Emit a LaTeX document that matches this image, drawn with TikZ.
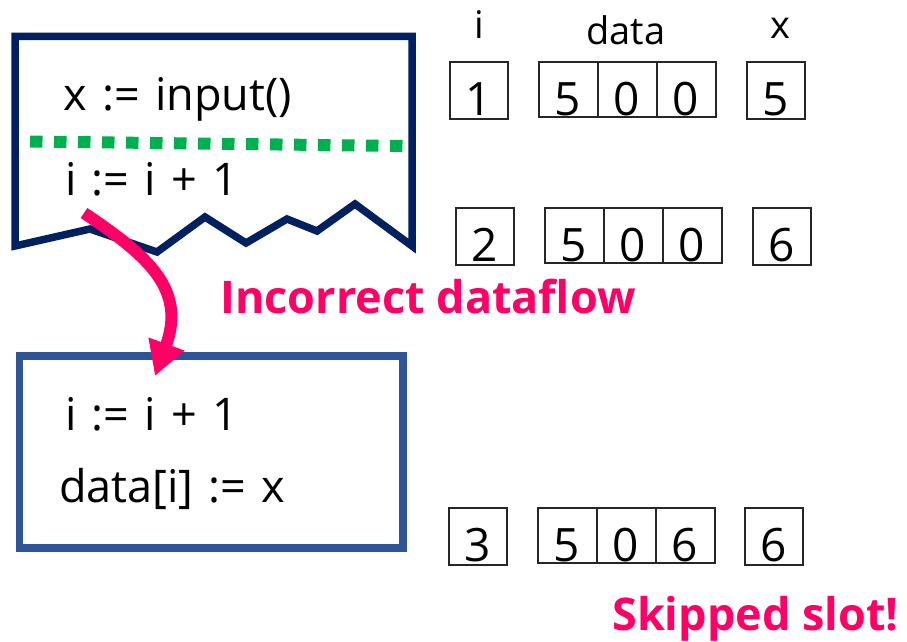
\documentclass[tikz,border=0pt]{standalone}
\usepackage{fontspec}
\setmainfont{Open Sans}
\usetikzlibrary{arrows.meta,calc}
\definecolor{navyline}{HTML}{002060}
\definecolor{blueline}{HTML}{2F5597}
\definecolor{splitgreen}{HTML}{00B050}
\definecolor{alertpink}{HTML}{FF0066}
% statement font with roomier word spaces
\newcommand{\stmtfont}{\fontsize{45}{54}\selectfont\spaceskip 0.34em plus 0pt minus 0pt\relax}
\tikzset{
  code/.style={inner sep=0pt, anchor=base west, font=\stmtfont},
  alert/.style={inner sep=0pt, anchor=base west, text=alertpink, font=\fontsize{45}{54}\selectfont\bfseries},
  head/.style={inner sep=0pt, anchor=base, font=\fontsize{38}{44}\selectfont},
  cellbox/.style={draw=black!85, line width=2pt, inner sep=0pt, anchor=north west},
  digit/.style={inner sep=0pt, anchor=base, font=\fontsize{46}{54}\selectfont},
  flow/.style={line width=12pt, alertpink, -{Triangle[length=34pt,width=36pt]}},
}
% one memory cell: name, left, top, width, height, value
\newcommand{\valcell}[6]{%
  \node[cellbox, minimum width=#4pt, minimum height=#5pt] (#1) at (#2,#3) {};
  \node[digit] (#1v) at ($(#1.north)+(0,54.5)$) {#6};
}
\begin{document}
\begin{tikzpicture}[x=1pt,y=-1pt]
\useasboundingbox (0,0) rectangle (907,642);

% torn block holding the two statements
\draw[navyline, line width=7.5pt, line join=miter]
  (15,246) -- (15,36.5) -- (412,36.5) -- (412,246) -- (355,204) -- (317,231)
  -- (287,219) -- (246,243) -- (205,217) -- (157,252) -- (90,229) -- cycle;
\draw[splitgreen, line width=12pt, dash pattern=on 12.5pt off 11.5pt] (30,141.5) -- (403,146);
\node[code] (readx) at (63,110) {x := input()};
\node[code] (incA) at (65,195) {i := i + 1};

% second block
\node[draw=blueline, line width=7.7pt, minimum width=383.5pt, minimum height=192pt, inner sep=0pt]
  (body) at (211.25,452) {};
\node[code] (incB) at (65,430) {i := i + 1};
\node[code] (store) at (59,502) {data[i] := x};

% dataflow arrow
\coordinate (flowstart) at (84,213);
\coordinate (flowend) at (155,376);
\draw[flow] (flowstart) .. controls (150,257) and (186,290) .. (flowend);
\node[alert] (wrong) at (220,313) {Incorrect dataflow};

% column headings
\node[head] (hi) at (479,38) {i};
\node[head] (hdata) at (626,45) {data};
\node[head] (hx) at (780,39) {x};

% state 1
\valcell{iA}{448.5}{61}{58}{57}{1}
\valcell{dA1}{537.5}{61}{59}{55}{5}
\valcell{dA2}{596.5}{61}{59}{55}{0}
\valcell{dA3}{655.5}{61}{59}{55}{0}
\valcell{xA}{745.5}{61}{58}{57}{5}

% state 2
\valcell{iB}{454.5}{207}{58}{57}{2}
\valcell{dB1}{543.5}{207}{59}{55}{5}
\valcell{dB2}{602.5}{207}{59}{55}{0}
\valcell{dB3}{661.5}{207}{59}{55}{0}
\valcell{xB}{751.5}{207}{58}{57}{6}

% state 3
\valcell{iC}{447.5}{507}{58}{57}{3}
\valcell{dC1}{536.5}{507}{59}{55}{5}
\valcell{dC2}{595.5}{507}{59}{55}{0}
\valcell{dC3}{654.5}{507}{59}{55}{6}
\valcell{xC}{743.5}{507}{58}{57}{6}

\node[alert] (skip) at (612,630) {Skipped slot!};
\end{tikzpicture}
\end{document}
